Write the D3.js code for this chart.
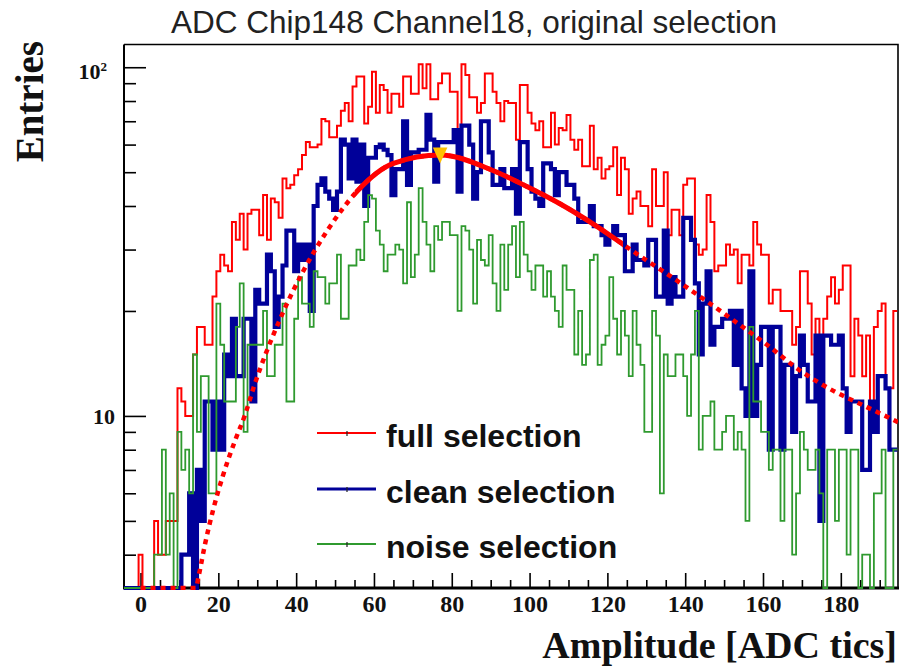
<!DOCTYPE html>
<html>
<head>
<meta charset="utf-8">
<script src="https://cdn.jsdelivr.net/npm/d3@7"></script>
<style>
  html, body { margin: 0; padding: 0; background: #ffffff; }
  svg { display: block; }
</style>
</head>
<body>
<svg id="chart" width="912" height="668"></svg>
<script>
// ---- histogram contents: one bin per ADC tic, first bin centred on -4 ----
const firstBin = -4;

const fullCounts = [
  0, 0, 0, 0,
  4, 0, 0, 0, 5, 4, 4, 5, 5, 5,
  12, 11, 10, 10, 15, 18, 18, 16, 16, 22,
  26, 29, 27, 26, 36, 32, 38, 30, 38, 39,
  39, 33, 43, 32, 42, 41, 37, 48, 45, 46,
  49, 51, 56, 61, 59, 59, 60, 71, 70, 63,
  63, 68, 75, 79, 70, 88, 94, 94, 69, 77,
  97, 74, 89, 86, 74, 84, 84, 77, 94, 94,
  84, 84, 102, 87, 102, 81, 81, 90, 96, 96,
  85, 85, 66, 102, 95, 82, 82, 74, 79, 96,
  96, 85, 79, 70, 80, 79, 79, 62, 89, 89,
  74, 69, 66, 70, 59, 59, 74, 60, 67, 66,
  73, 62, 58, 62, 52, 52, 68, 51, 55, 48,
  51, 52, 59, 43, 55, 51, 38, 42, 44, 40,
  40, 35, 51, 40, 40, 50, 33, 39, 39, 33,
  46, 48, 48, 31, 29, 30, 43, 36, 26, 27,
  27, 31, 29, 30, 24, 29, 29, 27, 36, 31,
  29, 29, 21, 23, 23, 20, 20, 20, 16, 18,
  26, 26, 21, 15, 19, 11, 19, 22, 25, 21,
  23, 27, 27, 13, 19, 17, 13, 17, 9, 18,
  20, 21, 12, 12, 20
];

const cleanCounts = [
  0, 0, 0, 0, 0, 0, 0, 0, 0, 0, 0, 0, 0, 0, 0,
  4, 4, 6, 3, 7, 5, 11, 11, 8,
  11, 8, 15, 13, 19, 13, 13, 19, 19, 11,
  23, 21, 21, 29, 26, 18, 22, 27, 34, 34,
  26, 31, 28, 31, 20, 40, 46, 48, 44, 42,
  39, 44, 62, 60, 48, 62, 47, 60, 40, 55,
  55, 59, 60, 58, 56, 43, 51, 51, 70, 46,
  57, 57, 58, 58, 73, 62, 47, 61, 61, 61,
  61, 66, 44, 68, 68, 60, 42, 50, 70, 70,
  57, 46, 46, 51, 45, 45, 51, 38, 61, 61,
  51, 44, 42, 40, 53, 53, 51, 43, 50, 50,
  46, 46, 42, 36, 36, 36, 40, 35, 35, 33,
  31, 33, 35, 33, 33, 26, 26, 31, 28, 28,
  27, 32, 32, 22, 22, 34, 21, 25, 22, 22,
  37, 37, 32, 24, 15, 21, 26, 16, 18, 18,
  19, 19, 20, 14, 20, 12, 10, 26, 10, 14,
  18, 18, 8, 18, 18, 8, 14, 14, 9, 13,
  17, 14, 11, 11, 17, 5, 17, 17, 16, 16,
  17, 12, 9, 11, 11, 11, 7, 7, 11, 9,
  13, 13, 12, 8, 8
];

const noiseCounts = [
  0, 0, 0, 0, 0, 0, 0, 0,
  4, 4, 8, 4, 6, 0, 9, 7, 8, 6,
  15, 9, 13, 13, 6, 6, 21, 16, 11, 11,
  11, 18, 24, 9, 16, 16, 16, 16, 20, 13,
  13, 16, 16, 21, 11, 11, 19, 25, 21, 21,
  18, 26, 25, 25, 21, 24, 24, 29, 19, 19,
  27, 27, 30, 28, 36, 43, 42, 34, 31, 26,
  29, 29, 31, 30, 24, 41, 25, 29, 45, 36,
  31, 26, 35, 32, 36, 36, 33, 33, 20, 35,
  34, 30, 21, 32, 28, 27, 33, 24, 20, 31,
  23, 31, 35, 25, 36, 29, 26, 23, 27, 27,
  22, 26, 22, 20, 18, 27, 23, 23, 15, 20,
  14, 15, 28, 29, 14, 16, 17, 25, 19, 15,
  20, 17, 13, 20, 16, 14, 9, 9, 20, 17,
  6, 15, 13, 13, 15, 15, 13, 10, 15, 20,
  8, 10, 10, 11, 8, 8, 9, 10, 10, 8,
  9, 8, 5, 18, 11, 11, 9, 9, 7, 8,
  8, 5, 8, 8, 4, 6, 9, 8, 7, 7,
  8, 6, 0, 8, 8, 5, 8, 8, 4, 8,
  8, 0, 4, 4, 0, 6, 6, 8, 0, 0, 8
];

// fitted curve sampled along the amplitude axis
const fitX = [0, 14.2, 15, 16.6, 18.7, 21.1, 24.3, 26.9, 29, 35.9, 41.8, 48, 55.6, 65, 77,
              90.7, 99.3, 107.8, 116.4, 126.7, 135.2, 143.8, 152.4, 161, 169.5, 178.1, 186.7, 194.7];
const fitY = [3.21, 3.21, 3.5, 4.3, 5.4, 6.7, 8.5, 10.1, 12.0, 19, 26, 34, 44, 53, 56,
              50.5, 45.5, 40.6, 35.5, 29.6, 25.6, 22, 18.8, 16, 13.5, 11.8, 10.6, 9.6];
const fitRange = [55, 124];          // range used for the fit (drawn solid)
const peakX = 77, peakY = 55.8;      // fitted most-probable value

const xMajorTicks = [0, 20, 40, 60, 80, 100, 120, 140, 160, 180];
const xMinorTicks = d3.range(0, 195, 5).filter(v => v % 20 !== 0);
const yMajorTicks = [10, 100];
const yMinorTicks = [4, 5, 6, 7, 8, 9, 20, 30, 40, 50, 60, 70, 80, 90];

const seriesNames = ["full selection", "clean selection", "noise selection"];
const seriesColors = ["#ff0000", "#000099", "#2f9a2f"];
const titleText = "ADC Chip148 Channel18, original selection";
const xTitle = "Amplitude [ADC tics]";
const yTitle = "Entries";

// ---- layout ----
const svg = d3.select("#chart");
const frame = { left: 124, right: 898, top: 44.5, bottom: 588 };

const x = d3.scaleLinear().domain([-4.25, 194.7]).range([frame.left, frame.right]);
const y = d3.scaleLog().domain([3.21, 116.2]).range([frame.bottom, frame.top]);
const yMin = y.domain()[0];

const serif = "'Liberation Serif', 'Times New Roman', serif";
const sans = "'Liberation Sans', Arial, Helvetica, sans-serif";

svg.append("rect").attr("width", 912).attr("height", 668).attr("fill", "#ffffff");

const defs = svg.append("defs");
defs.append("clipPath").attr("id", "plotClip")
  .append("rect")
  .attr("x", frame.left).attr("y", frame.top)
  .attr("width", frame.right - frame.left).attr("height", frame.bottom - frame.top + 2);
defs.append("clipPath").attr("id", "fitClip")
  .append("rect")
  .attr("x", x(fitRange[0])).attr("y", frame.top)
  .attr("width", x(fitRange[1]) - x(fitRange[0])).attr("height", frame.bottom - frame.top);

// ---- frame and axes ----
const axes = svg.append("g");

// top and right frame edges
axes.append("path")
  .attr("d", `M${frame.left},${frame.top}H${frame.right}V${frame.bottom}`)
  .attr("fill", "none").attr("stroke", "#000").attr("stroke-width", 1.6);

const xAxisMajor = d3.axisBottom(x).tickValues(xMajorTicks).tickSize(-15).tickPadding(7)
  .tickFormat(d3.format("d"));
const xAxisMinor = d3.axisBottom(x).tickValues(xMinorTicks).tickSize(-8).tickFormat("");

const gxMinor = axes.append("g").attr("transform", `translate(0,${frame.bottom})`).call(xAxisMinor);
const gxMajor = axes.append("g").attr("transform", `translate(0,${frame.bottom})`).call(xAxisMajor);
[gxMinor, gxMajor].forEach(g => {
  g.select(".domain").remove();
  g.selectAll(".tick line").attr("stroke", "#000").attr("stroke-width", 1.6);
});
gxMajor.selectAll(".tick text")
  .attr("font-family", serif).attr("font-weight", "bold").attr("font-size", 24)
  .attr("fill", "#111");

const yAxisMajor = d3.axisLeft(y).tickValues(yMajorTicks).tickSize(-22).tickFormat("");
const yAxisMinor = d3.axisLeft(y).tickValues(yMinorTicks).tickSize(-12).tickFormat("");
const gyMinor = axes.append("g").attr("transform", `translate(${frame.left},0)`).call(yAxisMinor);
const gyMajor = axes.append("g").attr("transform", `translate(${frame.left},0)`).call(yAxisMajor);
[gyMinor, gyMajor].forEach(g => {
  g.select(".domain").remove();
  g.selectAll(".tick line").attr("stroke", "#000").attr("stroke-width", 1.6);
});

// axis lines
axes.append("line")
  .attr("x1", frame.left).attr("x2", frame.left)
  .attr("y1", frame.top).attr("y2", frame.bottom)
  .attr("stroke", "#000").attr("stroke-width", 2);
axes.append("line")
  .attr("x1", frame.left - 1).attr("x2", frame.right + 1)
  .attr("y1", frame.bottom).attr("y2", frame.bottom)
  .attr("stroke", "#000").attr("stroke-width", 3);

// y tick labels: 10 and 10^2
const yl = svg.append("g")
  .attr("font-family", serif).attr("font-weight", "bold").attr("fill", "#111");
yl.append("text")
  .attr("x", frame.left - 9).attr("y", y(10) + 8)
  .attr("text-anchor", "end").attr("font-size", 22)
  .text("10");
const lab100 = yl.append("text")
  .attr("x", frame.left - 17).attr("y", y(100) + 12)
  .attr("text-anchor", "end").attr("font-size", 22);
lab100.append("tspan").text("10");
lab100.append("tspan").attr("font-size", 13).attr("dy", -8).text("2");

// ---- histograms ----
function stepPoints(counts) {
  const pts = counts.map((c, i) => [firstBin + i - 0.5, Math.max(c, yMin)]);
  const last = counts.length - 1;
  pts.push([firstBin + last + 0.5, Math.max(counts[last], yMin)]);
  return pts;
}
const stepLine = d3.line()
  .x(d => x(d[0]))
  .y(d => y(d[1]))
  .curve(d3.curveStepAfter);

const plot = svg.append("g").attr("clip-path", "url(#plotClip)");

plot.append("path")
  .attr("d", stepLine(stepPoints(fullCounts)))
  .attr("fill", "none").attr("stroke", seriesColors[0]).attr("stroke-width", 2);
plot.append("path")
  .attr("d", stepLine(stepPoints(cleanCounts)))
  .attr("fill", "none").attr("stroke", seriesColors[1]).attr("stroke-width", 4.2);
plot.append("path")
  .attr("d", stepLine(stepPoints(noiseCounts)))
  .attr("fill", "none").attr("stroke", seriesColors[2]).attr("stroke-width", 1.8);

// ---- fit: dotted over the full range, solid inside the fit range ----
const fitPts = fitX.map((v, i) => [v, Math.max(fitY[i], yMin)]);
const fitLine = d3.line()
  .x(d => x(d[0]))
  .y(d => y(d[1]))
  .curve(d3.curveMonotoneX);

plot.append("path")
  .attr("d", fitLine(fitPts))
  .attr("fill", "none").attr("stroke", "#ff0000").attr("stroke-width", 4.5)
  .attr("stroke-dasharray", "5,5");
plot.append("g").attr("clip-path", "url(#fitClip)")
  .append("path")
  .attr("d", fitLine(fitPts))
  .attr("fill", "none").attr("stroke", "#ff0000").attr("stroke-width", 5);

// peak marker (downward triangle)
const px = x(peakX), py = y(peakY);
plot.append("path")
  .attr("d", `M${px - 7.3},${py - 8}L${px + 7.3},${py - 8}L${px},${py + 8}Z`)
  .attr("fill", "#ffc000");

// ---- legend ----
const legendRows = [433, 489, 544];
const legendWidths = [2, 3, 2];
const legend = svg.append("g");
seriesNames.forEach((name, i) => {
  const ly = legendRows[i];
  legend.append("line")
    .attr("x1", 317).attr("x2", 376).attr("y1", ly).attr("y2", ly)
    .attr("stroke", seriesColors[i]).attr("stroke-width", legendWidths[i]);
  legend.append("line")
    .attr("x1", 347).attr("x2", 347).attr("y1", ly - 2).attr("y2", ly + 3)
    .attr("stroke", "#222").attr("stroke-width", 1.2);
  legend.append("text")
    .attr("x", 386).attr("y", ly + 14)
    .attr("font-family", sans).attr("font-weight", "bold").attr("font-size", 32)
    .attr("fill", "#111")
    .text(name);
});

// ---- titles ----
svg.append("text")
  .attr("x", 474).attr("y", 33)
  .attr("text-anchor", "middle")
  .attr("font-family", sans).attr("font-size", 31.5).attr("fill", "#222")
  .text(titleText);

svg.append("text")
  .attr("x", 897).attr("y", 658)
  .attr("text-anchor", "end")
  .attr("font-family", serif).attr("font-weight", "bold").attr("font-size", 38)
  .attr("fill", "#111")
  .text(xTitle);

svg.append("text")
  .attr("transform", "translate(43,41) rotate(-90)")
  .attr("text-anchor", "end")
  .attr("font-family", serif).attr("font-weight", "bold").attr("font-size", 39)
  .attr("fill", "#111")
  .text(yTitle);
</script>
</body>
</html>
